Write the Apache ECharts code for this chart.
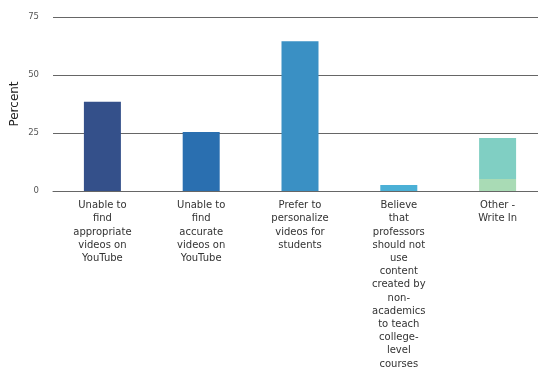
<!DOCTYPE html>
<html>
<head>
<meta charset="utf-8">
<script src="https://cdn.jsdelivr.net/npm/echarts@6/dist/echarts.min.js"></script>
<style>html,body{margin:0;padding:0;background:#fff;}#chart{width:538px;height:367px;}</style>
</head>
<body>
<div id="chart"></div>
<script>
var categories = [
  "Unable to\nfind\nappropriate\nvideos on\nYouTube",
  "Unable to\nfind\naccurate\nvideos on\nYouTube",
  "Prefer to\npersonalize\nvideos for\nstudents",
  "Believe\nthat\nprofessors\nshould not\nuse\ncontent\ncreated by\nnon-\nacademics\nto teach\ncollege-\nlevel\ncourses",
  "Other -\nWrite In"
];
var baseValues = [38.5, 25.4, 64.5, 2.6, 5.2];
var upperValues = [null, null, null, null, 17.6];
var baseColors = ["#34508a", "#2a6fb0", "#3a90c4", "#4bb0d6", "#a9dbb5"];
var upperColor = "#80cfc3";
var yTicks = [0, 25, 50, 75];

var chart = echarts.init(document.getElementById('chart'), null, {renderer: 'canvas'});
chart.setOption({
  animation: false,
  grid: {left: 53, width: 494, top: 17, bottom: 176, containLabel: false, outerBoundsMode: 'none'},
  xAxis: {
    type: 'category',
    data: categories,
    axisLine: {show: true, lineStyle: {color: '#666', width: 1}},
    axisTick: {show: false},
    axisLabel: {
      interval: 0, margin: 8, color: '#333',
      fontFamily: 'DejaVu Sans', fontSize: 10, lineHeight: 13.2, align: 'center'
    }
  },
  yAxis: {
    type: 'value', min: 0, max: 75, interval: 25,
    name: 'Percent', nameLocation: 'middle', nameGap: 32, nameRotate: 90, nameMoveOverlap: false,
    nameTextStyle: {color: '#222', fontFamily: 'DejaVu Sans', fontSize: 12},
    axisLine: {show: false}, axisTick: {show: false},
    axisLabel: {color: '#555', fontFamily: 'DejaVu Sans', fontSize: 8.5, margin: 14,
      formatter: function (v) { return yTicks.indexOf(v) >= 0 ? String(v) : ''; }},
    splitLine: {show: true, lineStyle: {color: '#666', width: 1}}
  },
  series: [
    {
      type: 'bar', stack: 'a', barWidth: 37,
      data: baseValues.map(function (v, i) {
        return {value: v, itemStyle: {color: baseColors[i]}};
      })
    },
    {
      type: 'bar', stack: 'a', barWidth: 37,
      data: upperValues.map(function (v) {
        return v == null ? null : {value: v, itemStyle: {color: upperColor}};
      })
    }
  ]
});
</script>
</body>
</html>
